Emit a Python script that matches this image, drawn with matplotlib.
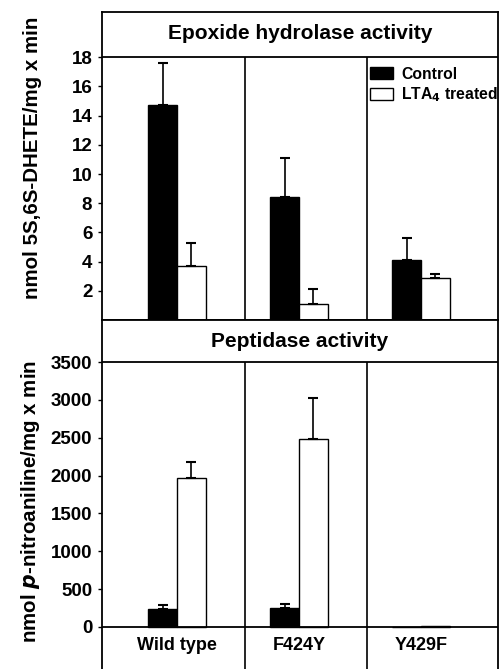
import numpy as np
import matplotlib
matplotlib.use("Agg")
from matplotlib import pyplot as plt
from matplotlib.patches import Patch

plt.rcParams['font.family'] = ['Liberation Sans', 'DejaVu Sans']
plt.rcParams['font.weight'] = 'bold'
plt.rcParams['font.size'] = 13.5

groups = ["Wild type", "F424Y", "Y429F"]
series = ["Control", "LTA$_4$ treated"]

# epoxide hydrolase activity (nmol 5S,6S-DHETE/mg x min)
eh_control = [14.7, 8.4, 4.1]
eh_control_err = [2.9, 2.7, 1.5]
eh_treated = [3.7, 1.1, 2.85]
eh_treated_err = [1.6, 1.0, 0.3]

# peptidase activity (nmol p-nitroaniline/mg x min)
pep_control = [240, 250, 0]
pep_control_err = [45, 60, 0]
pep_treated = [1970, 2480, 15]
pep_treated_err = [210, 550, 0]

W, H = 499, 669
fig = plt.figure(figsize=(W / 100, H / 100), dpi=100)

x_left, x_right = 102, 498
def frac(y0, y1):
    return [x_left / W, 1 - y1 / H, (x_right - x_left) / W, (y1 - y0) / H]

ax1 = fig.add_axes(frac(12, 320))
ax2 = fig.add_axes(frac(320, 669))

x = np.arange(len(groups))
bw = 0.235
xlim = (-0.615, 2.63)
seps = [0.557, 1.557]

def panel(ax, ctrl, ctrl_err, trt, trt_err, top, ticks, title, title_y, ylim, sep_lo):
    ax.bar(x - bw / 2, ctrl, bw, color='black', edgecolor='black', linewidth=1)
    ax.bar(x + bw / 2, trt, bw, color='white', edgecolor='black', linewidth=1)
    for xs, v, e in [(x - bw / 2, ctrl, ctrl_err), (x + bw / 2, trt, trt_err)]:
        e = np.array(e)
        m = e > 0
        ax.errorbar(xs[m], np.array(v)[m], yerr=[np.zeros(m.sum()), e[m]],
                    fmt='none', ecolor='black', elinewidth=1.2, capsize=3.5, capthick=1.5)
    ax.axhline(top, color='black', lw=1.3)
    ax.axhline(0, color='black', lw=1.3)
    ax.vlines(seps, sep_lo, top, color='black', lw=1.2)
    ax.set_xlim(*xlim)
    ax.set_ylim(*ylim)
    ax.set_xticks([])
    ax.set_yticks(ticks)
    ax.tick_params(axis='y', direction='out', length=3, width=1, pad=4)
    for t in ax.get_yticklabels():
        t.set_fontweight('bold')
    ax.text(np.mean(xlim), title_y, title, ha='center', va='center', fontsize=15, fontweight='bold')
    ax.spines['bottom'].set_visible(False)
    for sp in ax.spines.values():
        sp.set_linewidth(1.3)

panel(ax1, eh_control, eh_control_err, eh_treated, eh_treated_err, 18,
      np.arange(2, 19, 2), "Epoxide hydrolase activity", 19.6, (0, 21.1), 0)

panel(ax2, pep_control, pep_control_err, pep_treated, pep_treated_err, 3500,
      np.arange(0, 3501, 500), "Peptidase activity", 3770, (-555, 4055), -555)
for xi, g in zip(x, groups):
    ax2.text(xi, -250, g, ha='center', va='center', fontsize=13, fontweight='bold')

ax1.set_ylabel("nmol 5S,6S-DHETE/mg x min", fontsize=14.8, fontweight='bold')
ax1.yaxis.set_label_coords(-0.152, 0.526)
ax2.set_ylabel("nmol $\\boldsymbol{p}$-nitroaniline/mg x min", fontsize=14.8, fontweight='bold')
ax2.yaxis.set_label_coords(-0.152, 0.481)

handles = [Patch(facecolor='black', edgecolor='black'),
           Patch(facecolor='white', edgecolor='black')]
ax1.legend(handles, series, loc='upper left', bbox_to_anchor=(0.66, 0.842),
           frameon=False, handlelength=1.5, handleheight=0.8, handletextpad=0.5,
           labelspacing=0.2, borderaxespad=0, prop={'weight': 'bold', 'size': 11.3})

fig.savefig("out.png", dpi=100)
